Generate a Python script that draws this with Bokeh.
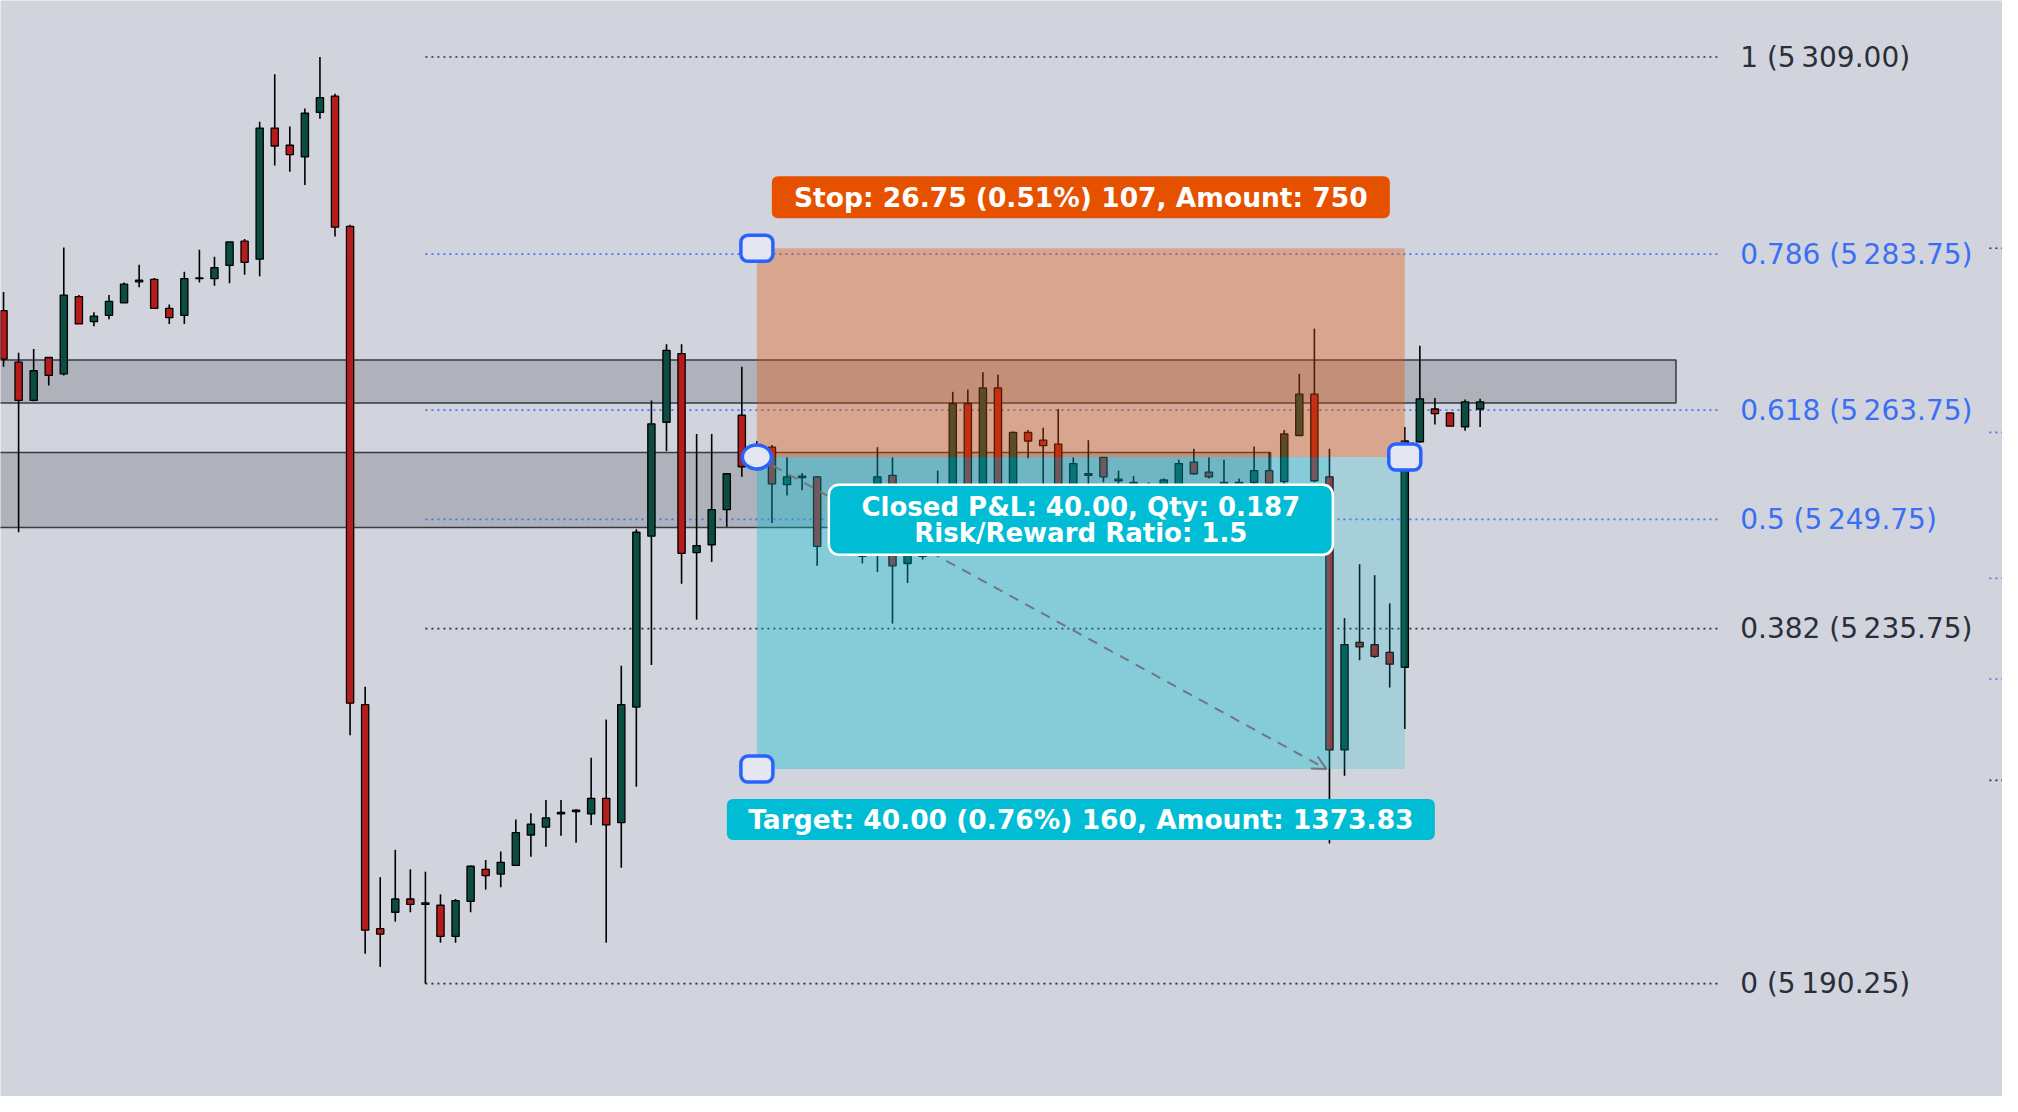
from bokeh.plotting import figure
from bokeh.models import Range1d, BoxAnnotation, Arrow, OpenHead
from bokeh.core.properties import value
from bokeh.embed import file_html
from bokeh.resources import INLINE

# ---------------- data ----------------
bar_index = list(range(99))
open_ = [5276.5, 5269.9, 5265.0, 5270.5, 5268.4, 5278.3, 5275.1, 5275.9, 5277.5, 5280.4,
         5280.5, 5276.8, 5275.9, 5280.6, 5280.6, 5282.3, 5285.4, 5283.1, 5299.9, 5297.7,
         5296.2, 5301.9, 5304.0, 5287.3, 5226.0, 5197.3, 5199.4, 5201.1, 5200.6, 5200.3,
         5196.3, 5200.8, 5204.9, 5204.3, 5205.4, 5209.3, 5210.3, 5212.0, 5212.3, 5212.0,
         5214.0, 5210.9, 5225.7, 5247.6, 5262.2, 5271.0, 5245.5, 5246.5, 5251.0, 5263.1,
         5257.0, 5259.0, 5254.2, 5255.3, 5255.2, 5246.0, 5249.0, 5247.0, 5254.3, 5255.4,
         5244.1, 5245.2, 5246.0, 5250.5, 5264.6, 5250.0, 5266.6, 5251.5, 5260.9, 5259.9,
         5259.4, 5252.0, 5255.6, 5257.7, 5254.9, 5254.5, 5254.0, 5252.5, 5254.0, 5257.1,
         5255.8, 5254.5, 5253.5, 5254.5, 5256.0, 5254.6, 5260.5, 5265.8, 5255.2, 5220.2,
         5234.0, 5233.7, 5232.7, 5230.8, 5259.7, 5263.9, 5263.4, 5261.6, 5263.9]
high = [5278.9, 5271.1, 5271.6, 5270.5, 5284.6, 5278.5, 5276.3, 5278.5, 5280.1, 5282.4,
        5280.7, 5277.3, 5281.5, 5284.3, 5283.4, 5285.3, 5285.7, 5300.7, 5306.8, 5300.1,
        5302.4, 5309.0, 5304.3, 5287.5, 5228.3, 5203.9, 5207.4, 5204.9, 5204.6, 5201.7,
        5201.1, 5205.4, 5206.1, 5207.2, 5211.3, 5212.1, 5213.8, 5213.8, 5212.6, 5219.2,
        5224.1, 5231.0, 5248.5, 5265.0, 5272.2, 5272.2, 5260.7, 5260.7, 5255.7, 5269.3,
        5259.8, 5259.3, 5257.7, 5255.7, 5255.3, 5250.0, 5251.0, 5248.0, 5259.0, 5257.7,
        5248.0, 5246.5, 5256.0, 5266.1, 5266.4, 5268.6, 5268.3, 5261.0, 5261.2, 5261.5,
        5263.9, 5257.7, 5259.9, 5257.7, 5256.0, 5255.3, 5254.5, 5255.0, 5257.4, 5258.8,
        5257.7, 5257.4, 5255.0, 5259.1, 5258.4, 5261.2, 5268.4, 5274.2, 5258.8, 5237.1,
        5244.0, 5242.6, 5239.0, 5261.6, 5272.0, 5265.3, 5263.4, 5265.1, 5265.2]
low = [5269.3, 5248.1, 5264.9, 5266.9, 5268.2, 5274.8, 5274.5, 5275.4, 5277.5, 5279.5,
       5276.8, 5274.8, 5274.8, 5280.1, 5279.7, 5280.0, 5281.1, 5280.9, 5295.1, 5294.3,
       5292.6, 5301.1, 5286.0, 5222.1, 5194.1, 5192.4, 5198.2, 5199.4, 5190.25, 5195.5,
       5195.5, 5199.4, 5202.3, 5202.6, 5205.4, 5206.5, 5207.8, 5209.2, 5208.3, 5210.6,
       5195.5, 5205.1, 5215.5, 5231.1, 5258.5, 5241.5, 5236.9, 5244.3, 5248.8, 5255.2,
       5256.0, 5249.3, 5252.8, 5253.5, 5243.8, 5245.5, 5246.0, 5244.1, 5243.0, 5236.4,
       5241.6, 5244.6, 5245.0, 5249.5, 5248.5, 5249.0, 5250.0, 5250.5, 5257.6, 5254.0,
       5251.0, 5251.0, 5253.5, 5254.5, 5253.0, 5252.0, 5251.0, 5251.5, 5253.0, 5255.5,
       5255.0, 5253.0, 5252.5, 5254.0, 5254.0, 5254.2, 5260.5, 5254.5, 5208.2, 5216.9,
       5231.7, 5232.0, 5228.2, 5222.9, 5259.6, 5261.9, 5261.7, 5261.1, 5261.6]
close = [5270.3, 5265.0, 5268.8, 5268.2, 5278.5, 5274.8, 5275.8, 5277.7, 5279.9, 5280.2,
         5276.8, 5275.6, 5280.6, 5280.7, 5282.0, 5285.3, 5282.7, 5299.9, 5297.6, 5296.5,
         5301.8, 5303.8, 5287.2, 5226.2, 5197.1, 5196.6, 5201.1, 5200.4, 5200.4, 5196.3,
         5200.9, 5205.3, 5204.1, 5205.8, 5209.6, 5210.7, 5211.5, 5212.2, 5212.5, 5214.0,
         5210.6, 5226.0, 5248.1, 5262.0, 5271.4, 5245.4, 5246.4, 5251.0, 5255.6, 5256.5,
         5259.0, 5254.3, 5255.2, 5255.1, 5246.3, 5249.0, 5247.5, 5245.0, 5255.2, 5243.8,
         5247.0, 5245.0, 5252.0, 5264.6, 5250.0, 5266.6, 5251.5, 5260.9, 5259.8, 5259.2,
         5252.5, 5256.9, 5255.4, 5255.2, 5254.7, 5254.3, 5253.0, 5254.8, 5256.9, 5255.6,
         5255.2, 5254.3, 5254.5, 5256.0, 5254.4, 5260.7, 5265.8, 5254.7, 5220.2, 5233.7,
         5233.4, 5232.2, 5231.2, 5259.8, 5265.2, 5263.3, 5261.7, 5264.8, 5264.8]

fib_ratio = ["1", "0.786", "0.618", "0.5", "0.382", "0"]
fib_price = [5309.00, 5283.75, 5263.75, 5249.75, 5235.75, 5190.25]
fib_kind = ["dark", "blue", "blue", "blue", "dark", "dark"]
fib_start_bar = 28
fib_end_bar = 113.8
fib_label_bar = 115.26

side_fib_price = [5284.5, 5260.9, 5242.2, 5229.3, 5216.3]
side_fib_kind = ["dark", "blue", "blue", "blue", "dark"]
side_fib_start_bar = 131.8

zone_bottom = [5264.67, 5248.72]
zone_top = [5270.17, 5258.33]
zone_end_bar = [111.0, 84.1]

entry_price = 5257.75
stop_price = 5284.50
target_price = 5217.75
pos_start_bar = 50
pos_end_bar = 93
exit_bar = 88

stop_text = "Stop: 26.75 (0.51%) 107, Amount: 750"
target_text = "Target: 40.00 (0.76%) 160, Amount: 1373.83"
info_lines = ["Closed P&L: 40.00, Qty: 0.187", "Risk/Reward Ratio: 1.5"]

# ---------------- styling ----------------
BG = "#d1d4dc"
DARK = "#2a2e39"
BLUE_LINE = "#3f73f5"
BLUE_TEXT = "#3a6ff5"
HANDLE = "#2962ff"
FONT = value("DejaVu Sans")

W, H = 2002, 1096
x0r, x1r = -0.201, 132.67
y0r, y1r = 5175.79, 5316.25
kx = W / (x1r - x0r)   # px per bar
ky = H / (y1r - y0r)   # px per price point

p = figure(width=W, height=H, x_range=Range1d(x0r, x1r), y_range=Range1d(y0r, y1r),
           output_backend="svg", toolbar_location=None,
           x_axis_location=None, y_axis_location=None, min_border=0,
           background_fill_color=BG, border_fill_color=BG, outline_line_color=None)
p.xgrid.visible = False
p.ygrid.visible = False

# zones
p.quad(left=[-5, -5], right=zone_end_bar, bottom=zone_bottom, top=zone_top,
       fill_color="#787b86", fill_alpha=0.39, line_color="#363a45", line_width=1.5)

# fib lines + labels
def kcol(kind, blue, dark):
    return blue if kind == "blue" else dark

p.segment(x0=[fib_start_bar] * len(fib_price), x1=[fib_end_bar] * len(fib_price),
          y0=fib_price, y1=fib_price,
          line_color=[kcol(k, BLUE_LINE, DARK) for k in fib_kind],
          line_width=1.6, line_dash="2 4")
fib_labels = ["%s (%s\u2009%s)" % (r, f"{v:.2f}"[0], f"{v:.2f}"[1:]) for r, v in zip(fib_ratio, fib_price)]
t = p.text(x=[fib_label_bar] * len(fib_price), y=fib_price, text=fib_labels,
           text_color=[kcol(k, BLUE_TEXT, DARK) for k in fib_kind],
           text_font=FONT, text_font_size="28px", text_baseline="middle", text_align="left")
t.level = "overlay"
p.segment(x0=[side_fib_start_bar] * len(side_fib_price), x1=[x1r + 2] * len(side_fib_price),
          y0=side_fib_price, y1=side_fib_price,
          line_color=[kcol(k, BLUE_LINE, DARK) for k in side_fib_kind],
          line_width=1.6, line_dash="2 4")

# candles
colors = ["#0b4d40" if c >= o else "#b71c1c" for o, c in zip(open_, close)]
body_top = [max(o, c) for o, c in zip(open_, close)]
body_bot = [min(o, c) for o, c in zip(open_, close)]
p.segment(x0=bar_index, x1=bar_index, y0=high, y1=low, line_color="#000000", line_width=1.6)
p.vbar(x=bar_index, width=0.48, top=body_top, bottom=body_bot,
       fill_color=colors, line_color="#000000", line_width=1.3)

# position tool
p.quad(left=[pos_start_bar], right=[pos_end_bar], bottom=[entry_price], top=[stop_price],
       fill_color="#e65100", fill_alpha=0.35, line_color=None)
p.quad(left=[pos_start_bar], right=[pos_end_bar], bottom=[target_price], top=[entry_price],
       fill_color="#00bcd4", fill_alpha=0.2, line_color=None)
p.quad(left=[pos_start_bar], right=[exit_bar], bottom=[target_price], top=[entry_price],
       fill_color="#00bcd4", fill_alpha=0.2, line_color=None)

p.add_layout(Arrow(end=OpenHead(size=14, line_color="#72767f", line_width=2),
                   x_start=pos_start_bar, y_start=entry_price,
                   x_end=exit_bar - 0.2, y_end=target_price,
                   line_color="#72767f", line_width=2, line_dash="10 8"))

mid_bar = (pos_start_bar + pos_end_bar) / 2

# stop label
sb_bot = stop_price + 30 / ky
sb_top = stop_price + 72 / ky
p.add_layout(BoxAnnotation(left=mid_bar - 309 / kx, right=mid_bar + 309 / kx,
                           bottom=sb_bot, top=sb_top, fill_color="#e65100", fill_alpha=1.0,
                           line_color=None, border_radius=6))
# target label
tb_top = target_price - 30 / ky
tb_bot = target_price - 71 / ky
p.add_layout(BoxAnnotation(left=mid_bar - 354 / kx, right=mid_bar + 354 / kx,
                           bottom=tb_bot, top=tb_top, fill_color="#00bcd4", fill_alpha=1.0,
                           line_color=None, border_radius=6))
# info tooltip
ib_top = entry_price - 27.7 / ky
ib_bot = entry_price - 97.7 / ky
p.add_layout(BoxAnnotation(left=mid_bar - 252 / kx, right=mid_bar + 252 / kx,
                           bottom=ib_bot, top=ib_top, fill_color="#00bcd4", fill_alpha=1.0,
                           line_color="#ffffff", line_alpha=1.0, line_width=2.5, border_radius=10))

ib_mid = (ib_top + ib_bot) / 2
t2 = p.text(x=[mid_bar, mid_bar], y=[(sb_bot + sb_top) / 2, (tb_bot + tb_top) / 2],
            text=[stop_text, target_text], text_color="#ffffff", text_font=FONT,
            text_font_style="bold", text_font_size="26.5px",
            text_align="center", text_baseline="middle")
t2.level = "overlay"
t3 = p.text(x=[mid_bar, mid_bar], y=[ib_mid + 13 / ky, ib_mid - 13 / ky],
            text=info_lines, text_color="#ffffff", text_font=FONT,
            text_font_style="bold", text_font_size="26px",
            text_align="center", text_baseline="middle")
t3.level = "overlay"

# handles
for hx, hy in [(pos_start_bar, stop_price), (pos_start_bar, target_price), (pos_end_bar, entry_price)]:
    p.add_layout(BoxAnnotation(left=hx - 16 / kx, right=hx + 16 / kx,
                               bottom=hy - 13 / ky, top=hy + 13 / ky,
                               fill_color="#e4e7ef", fill_alpha=1.0, line_color=HANDLE,
                               line_alpha=1.0, line_width=3.5, border_radius=7, level="overlay"))
e = p.ellipse(x=[pos_start_bar], y=[entry_price], width=29, height=24,
              width_units="screen", height_units="screen",
              fill_color="#e4e7ef", line_color=HANDLE, line_width=3.5)
e.level = "overlay"

open("out.html", "w").write(file_html(p, INLINE))
